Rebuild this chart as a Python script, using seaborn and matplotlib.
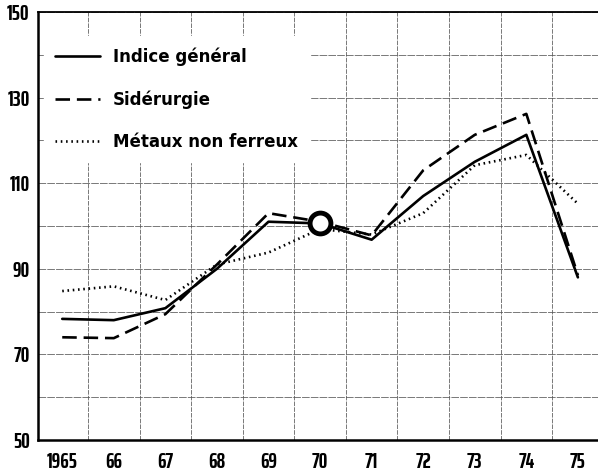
import pandas as pd
import numpy as np
import matplotlib
matplotlib.use('Agg')
import matplotlib.pyplot as plt
import seaborn as sns

# Data
years = [1965, 1966, 1967, 1968, 1969, 1970, 1971, 1972, 1973, 1974, 1975]
year_labels = ['1965', '66', '67', '68', '69', '70', '71', '72', '73', '74', '75']
indice_general = [78.3, 78.0, 80.8, 90.0, 101.0, 100.6, 96.8, 107.0, 115.0, 121.3, 88.0]
siderurgie = [74.0, 73.8, 79.4, 91.0, 103.0, 101.0, 97.8, 113.0, 121.3, 126.2, 88.5]
metaux = [84.8, 85.9, 82.7, 91.0, 93.8, 99.3, 98.0, 103.0, 114.2, 116.6, 105.2]
series_names = ['Indice général', 'Sidérurgie', 'Métaux non ferreux']

df = pd.DataFrame({
    'year': years * 3,
    'value': indice_general + siderurgie + metaux,
    'serie': [series_names[0]] * 11 + [series_names[1]] * 11 + [series_names[2]] * 11,
})

sns.set_style("white")
plt.rcParams['font.family'] = ['DejaVu Sans']
plt.rcParams['text.color'] = 'black'

fig = plt.figure(figsize=(5.98, 4.71), dpi=100)
ax = fig.add_axes([38 / 598, 1 - 440 / 471, 1 - 38 / 598, (440 - 12) / 471])

styles = {
    series_names[0]: dict(linestyle='-'),
    series_names[1]: dict(dashes=(5.5, 2.6)),
    series_names[2]: dict(dashes=(0.6, 1.4)),
}
for name in series_names:
    sub = df[df['serie'] == name]
    sns.lineplot(data=sub, x='year', y='value', ax=ax, color='black',
                 linewidth=1.9, label=name, **styles[name])

# base-year marker (1970 = 100)
ax.plot([1970], [indice_general[5]], marker='o', markersize=15, markeredgewidth=3.5,
        markerfacecolor='white', markeredgecolor='black', zorder=5)

ax.set_xlim(1964.53, 1975.39)
ax.set_ylim(50, 150)
ax.set_xticks(years)
ax.set_xticklabels(year_labels)
ax.set_yticks([50, 70, 90, 110, 130, 150])
ax.set_xticks(np.arange(1965.5, 1975, 1.0), minor=True)
ax.set_yticks(np.arange(60, 150, 10), minor=True)
ax.grid(False)
ax.grid(which='minor', axis='x', color='#555555', linewidth=0.55, linestyle=(0, (6, 1.5)))
ax.grid(which='both', axis='y', color='#555555', linewidth=0.55, linestyle=(0, (10, 1.5)))
ax.tick_params(axis='both', which='both', length=0, colors='black')
ax.tick_params(axis='x', pad=9)
ax.tick_params(axis='y', pad=6)
for lbl in ax.get_xticklabels() + ax.get_yticklabels():
    lbl.set_fontfamily(['Saira ExtraCondensed', 'DejaVu Sans'])
    lbl.set_fontweight('bold')
    lbl.set_fontsize(15.5)
    lbl.set_color('black')
ax.set_xlabel('')
ax.set_ylabel('')

for side in ['left', 'bottom']:
    ax.spines[side].set_linewidth(1.8)
ax.spines['top'].set_linewidth(1.3)
ax.spines['right'].set_visible(False)
for s in ax.spines.values():
    s.set_color('black')

leg = ax.legend(loc='upper left', bbox_to_anchor=(-0.005, 0.964), frameon=True,
                handlelength=2.7, handletextpad=0.78, labelspacing=1.45,
                prop={'family': 'DejaVu Sans', 'weight': 'bold', 'size': 12},
                borderpad=0.7, labelcolor='black')
leg.get_frame().set_edgecolor('white')
leg.get_frame().set_facecolor('white')
leg.get_frame().set_alpha(1)

fig.savefig('out.png', dpi=100)
